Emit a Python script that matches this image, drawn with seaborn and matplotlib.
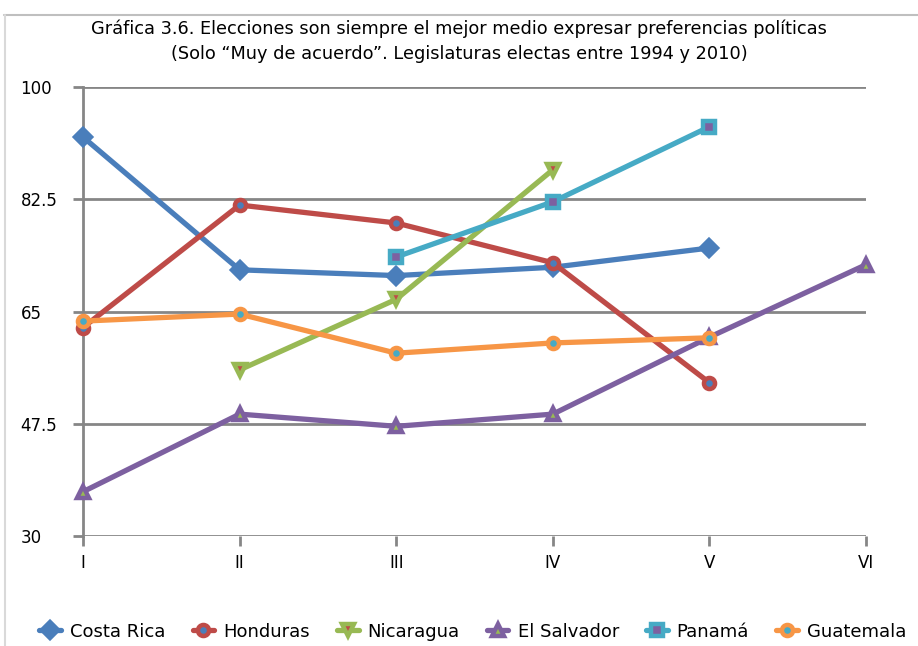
import numpy as np
import pandas as pd
import matplotlib
matplotlib.use('Agg')
import matplotlib.pyplot as plt
import seaborn as sns
from matplotlib.lines import Line2D

legislaturas = ['I', 'II', 'III', 'IV', 'V', 'VI']
costa_rica = [92.2, 71.5, 70.6, 71.9, 74.9, np.nan]
honduras = [62.5, 81.6, 78.8, 72.6, 53.9, np.nan]
nicaragua = [np.nan, 55.9, 66.9, 87.1, np.nan, np.nan]
el_salvador = [36.9, 49.0, 47.1, 49.0, 61.0, 72.3]
panama = [np.nan, np.nan, 73.5, 82.1, 93.8, np.nan]
guatemala = [63.5, 64.6, 58.5, 60.1, 60.9, np.nan]

# pais, datos, color linea, marcador, color relleno
series = [
    ('Costa Rica', costa_rica, '#4A7EBB', 'D', '#4A7EBB'),
    ('Honduras', honduras, '#BE4B48', 'o', '#4A7EBB'),
    ('Nicaragua', nicaragua, '#98B954', 'v', '#BE4B48'),
    ('El Salvador', el_salvador, '#7D60A0', '^', '#98B954'),
    ('Panamá', panama, '#46AAC5', 's', '#7D60A0'),
    ('Guatemala', guatemala, '#F79646', 'o', '#46AAC5'),
]

sns.set_style('white')
plt.rcParams['font.family'] = ['DejaVu Sans']
plt.rcParams['text.color'] = 'black'

fig = plt.figure(figsize=(9.18, 6.46), dpi=100)
ax = fig.add_axes([0.0904, 0.1703, 0.853, 0.695])

x = np.arange(len(legislaturas))
handles = []
for name, vals, col, mk, face in series:
    df = pd.DataFrame({'x': x, 'y': vals}).dropna()
    sns.lineplot(data=df, x='x', y='y', ax=ax, color=col, linewidth=3.8,
                 marker=mk, markersize=8, markerfacecolor=face,
                 markeredgecolor=col, markeredgewidth=3.2, zorder=3,
                 clip_on=False)
    handles.append(Line2D([0], [0], color=col, linewidth=3.8, marker=mk,
                          markersize=8, markerfacecolor=face,
                          markeredgecolor=col, markeredgewidth=3.2))

ax.set_xlim(0, 5)
ax.set_ylim(30, 100)
ax.set_yticks([30, 47.5, 65, 82.5, 100])
ax.set_yticklabels(['30', '47.5', '65', '82.5', '100'])
ax.set_xticks(x)
ax.set_xticklabels(legislaturas)
ax.set_xlabel('')
ax.set_ylabel('')
ax.grid(axis='y', color='#868686', linewidth=2)
ax.set_axisbelow(True)
for s in ['top', 'right', 'bottom']:
    ax.spines[s].set_visible(False)
ax.spines['left'].set_color('#868686')
ax.spines['left'].set_linewidth(2)
ax.tick_params(axis='both', colors='#868686', labelcolor='black', labelsize=12,
               length=7, width=2, direction='out')
ax.tick_params(axis='x', bottom=True, pad=6)
ax.tick_params(axis='y', left=True, pad=38)
for lab in ax.get_yticklabels():
    lab.set_horizontalalignment('left')

fig.text(0.5, 0.955, 'Gráfica 3.6. Elecciones son siempre el mejor medio expresar preferencias políticas',
         ha='center', va='center', fontsize=12.8)
fig.text(0.5, 0.917, '(Solo “Muy de acuerdo”. Legislaturas electas entre 1994 y 2010)',
         ha='center', va='center', fontsize=12.8)

fig.legend(handles, [s[0] for s in series], loc='center', ncol=6,
           bbox_to_anchor=(0.515, 0.022), frameon=False, fontsize=13,
           handlelength=1.2, columnspacing=1.5, handletextpad=0.5)

# marco del grafico
fig.add_artist(Line2D([0.004, 1.0], [0.977, 0.977], color='#BFBFBF', linewidth=1.5))
fig.add_artist(Line2D([0.005, 0.005], [0.0, 0.977], color='#D9D9D9', linewidth=1.5))

fig.savefig('out.png', dpi=100)
